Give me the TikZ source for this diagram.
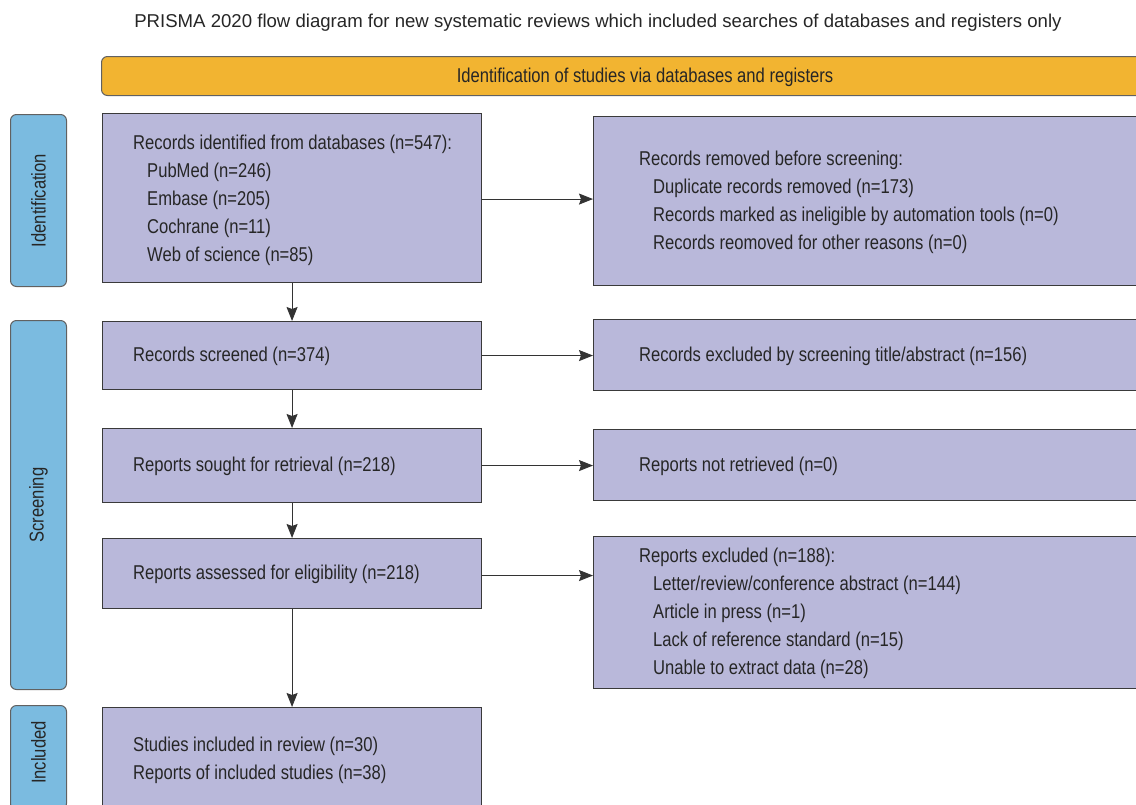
\documentclass[tikz,border=0pt]{standalone}
\usepackage{fontspec}
\setmainfont{Liberation Sans}
\newfontfamily\narrowfont[FakeStretch=0.83]{Liberation Sans}
\usetikzlibrary{arrows.meta}

\definecolor{barorange}{HTML}{F2B431}
\definecolor{barblue}{HTML}{7BBBE0}
\definecolor{boxlilac}{HTML}{B9B8DA}
\definecolor{edgegray}{HTML}{3A3A3A}

\tikzset{
  box/.style={draw=edgegray, line width=1.1pt, fill=boxlilac, anchor=north west, inner sep=0pt},
  phase/.style={draw=edgegray!80, line width=1pt, fill=barblue, rounded corners=6pt, anchor=north west, inner sep=0pt, minimum width=56pt},
  txt/.style={font=\narrowfont\fontsize{20}{28}\selectfont, text=black!85, align=left, inner sep=0pt, anchor=west},
  flow/.style={draw=black!80, line width=0.9pt, -{Stealth[length=14pt,width=11pt,inset=2pt]}}
}
\newcommand{\sub}{\hspace*{14pt}}

\begin{document}
\begin{tikzpicture}[x=1pt,y=-1pt]
\useasboundingbox (0,0) rectangle (1136,804);
\clip (0,0) rectangle (1136,804);

% title and header bar
\node[font=\fontsize{18.6}{21}\selectfont, text=black!85] (title) at (598,23)
  {PRISMA 2020 flow diagram for new systematic reviews which included searches of databases and registers only};
\node[draw=edgegray!80, line width=1pt, fill=barorange, rounded corners=6pt, anchor=north west,
  minimum width=1088pt, minimum height=39pt, inner sep=0pt] (head) at (101,56) {};
\node[txt, anchor=center] (headtext) at (645,77) {Identification of studies via databases and registers};

% phases on the left
\node[phase, minimum height=172pt] (ident) at (10,114) {};
\node[phase, minimum height=369pt] (screen) at (10,320) {};
\node[phase, minimum height=104pt] (incl) at (10,705) {};
\node[txt, anchor=center, rotate=90] at (ident.center) {Identification};
\node[txt, anchor=center, rotate=90] at (screen.center) {Screening};
\node[txt, anchor=center, rotate=90] at ([yshift=5pt]incl.center) {Included};

% main column
\node[box, minimum width=379pt, minimum height=169pt] (db) at (102,113) {};
\node[box, minimum width=379pt, minimum height=68pt] (screened) at (102,321) {};
\node[box, minimum width=379pt, minimum height=74pt] (sought) at (102,428) {};
\node[box, minimum width=379pt, minimum height=70pt] (assessed) at (102,538) {};
\node[box, minimum width=379pt, minimum height=103pt] (included) at (102,707) {};

\node[txt] (dbtext) at ([xshift=31pt,yshift=-2pt]db.west)
  {Records identified from databases (n=547):\\ \sub PubMed (n=246)\\ \sub Embase (n=205)\\
   \sub Cochrane (n=11)\\ \sub Web of science (n=85)};
\node[txt] (screenedtext) at ([xshift=31pt,yshift=-1pt]screened.west) {Records screened (n=374)};
\node[txt] (soughttext) at ([xshift=31pt,yshift=-1pt]sought.west) {Reports sought for retrieval (n=218)};
\node[txt] (assessedtext) at ([xshift=31pt,yshift=-1pt]assessed.west) {Reports assessed for eligibility (n=218)};
\node[txt] (includedtext) at ([xshift=31pt,yshift=-1pt]included.west)
  {Studies included in review (n=30)\\ Reports of included studies (n=38)};

% right column
\node[box, minimum width=596pt, minimum height=169pt] (removed) at (593,116) {};
\node[box, minimum width=596pt, minimum height=71pt] (excluded) at (593,319) {};
\node[box, minimum width=596pt, minimum height=71pt] (notret) at (593,429) {};
\node[box, minimum width=596pt, minimum height=152pt] (repexcl) at (593,536) {};

\node[txt] (removedtext) at ([xshift=46pt,yshift=-1pt]removed.west)
  {Records removed before screening:\\ \sub Duplicate records removed (n=173)\\
   \sub Records marked as ineligible by automation tools (n=0)\\ \sub Records reomoved for other reasons (n=0)};
\node[txt] (excludedtext) at ([xshift=46pt,yshift=-1pt]excluded.west) {Records excluded by screening title/abstract (n=156)};
\node[txt] (notrettext) at ([xshift=46pt,yshift=-1pt]notret.west) {Reports not retrieved (n=0)};
\node[txt] (repexcltext) at ([xshift=46pt,yshift=-1pt]repexcl.west)
  {Reports excluded (n=188):\\ \sub Letter/review/conference abstract (n=144)\\ \sub Article in press (n=1)\\
   \sub Lack of reference standard (n=15)\\ \sub Unable to extract data (n=28)};

% arrows
\draw[flow] (db) -- (screened);
\draw[flow] (screened) -- (sought);
\draw[flow] (sought) -- (assessed);
\draw[flow] (assessed) -- (included);
\draw[flow] ([yshift=-1pt]db.east) -- ([yshift=-1pt]db.east -| removed.west);
\draw[flow] (screened.east) -- (screened.east -| excluded.west);
\draw[flow] (sought.east) -- (sought.east -| notret.west);
\draw[flow] ([yshift=-2pt]assessed.east) -- ([yshift=-2pt]assessed.east -| repexcl.west);
\end{tikzpicture}
\end{document}
